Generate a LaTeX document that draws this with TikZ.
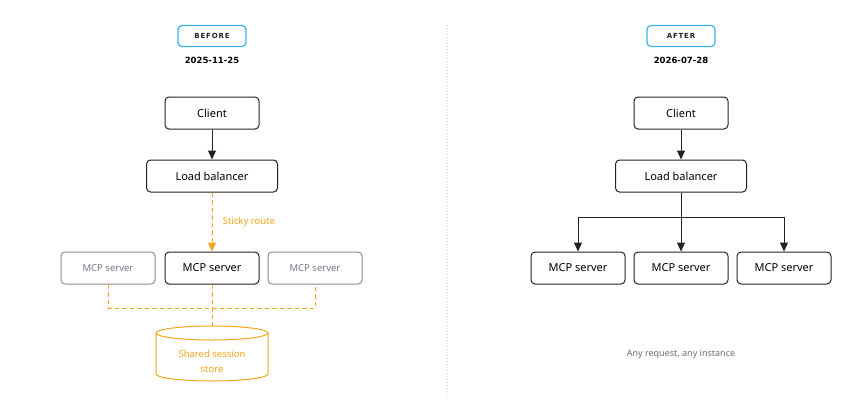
\documentclass[tikz,border=0pt]{standalone}
\usepackage{fontspec}
\setmainfont{Noto Sans}
\newfontfamily\tagfont[LetterSpace=12]{DejaVu Sans}
\newfontfamily\datefont{DejaVu Sans}
\usetikzlibrary{arrows.meta}
\definecolor{color_box_border}{HTML}{222222}
\definecolor{color_box_faded}{HTML}{8C8C8C}
\definecolor{color_faded_text}{HTML}{6E7680}
\definecolor{color_sticky}{HTML}{F5A31A}
\definecolor{color_tag}{HTML}{36B4EE}
\definecolor{color_divider}{HTML}{D4D4D4}
\definecolor{color_note}{HTML}{6E6E6E}
\def\boxwidth{94pt}
\def\boxheight{32pt}
\def\lbwidth{131pt}
\def\storerx{56}
\def\storery{7}
\tikzset{
    box/.style={draw=color_box_border, line width=1pt, rounded corners=4pt,
        minimum width=\boxwidth, minimum height=\boxheight,
        font=\fontsize{11}{13}\selectfont},
    fadedbox/.style={box, draw=color_box_faded, text=color_faded_text,
        font=\fontsize{9.5}{11}\selectfont},
    tagbox/.style={draw=color_tag, line width=1.2pt, rounded corners=4pt,
        minimum width=68pt, minimum height=21pt, text=color_box_border,
        font=\tagfont\bfseries\fontsize{7}{9}\selectfont},
    datelabel/.style={text=black, font=\datefont\bfseries\fontsize{8.5}{10}\selectfont},
    flow/.style={-{Triangle[length=9pt,width=8pt]}, line width=1pt, color_box_border},
    sticky/.style={color_sticky, line width=1pt, dash pattern=on 4.5pt off 3pt},
}
\begin{document}
\begin{tikzpicture}[x=1pt,y=-1pt]
    \useasboundingbox (0,0) rectangle (855,400);
    % divider
    \draw[color_divider, line width=1pt, dotted] (447,25) -- (447,395);
    % before
    \node[tagbox] (tag1) at (212,36) {BEFORE};
    \node[datelabel] (date1) at (212,60) {2025-11-25};
    \node[box] (client1) at (212,113) {Client};
    \node[box, minimum width=\lbwidth] (lb1) at (212,176) {Load balancer};
    \node[fadedbox] (mcp1a) at (108,268) {MCP server};
    \node[box] (mcp1b) at (212,268) {MCP server};
    \node[fadedbox] (mcp1c) at (315,268) {MCP server};
    \coordinate (bus1) at (212,308);
    \coordinate (storetop) at (212,326);
    \draw[color_sticky, line width=1pt, fill=white]
        (212-\storerx,333) -- (212-\storerx,374)
        arc[start angle=180, end angle=360, x radius=\storerx, y radius=-\storery]
        -- (212+\storerx,333);
    \draw[color_sticky, line width=1pt] (212,333) ellipse[x radius=\storerx, y radius=\storery];
    \node[text=color_sticky, align=center, font=\fontsize{9.5}{15}\selectfont] (store) at (212,361) {Shared session\\store};
    \draw[flow] (client1) -- (lb1);
    \draw[sticky, -{Triangle[length=9pt,width=8pt]}] (lb1) -- (mcp1b)
        node[midway, right, xshift=7pt, font=\fontsize{9.5}{11}\selectfont] {Sticky route};
    \draw[sticky] (mcp1a) |- (bus1) -| (mcp1c);
    \draw[sticky] (mcp1b) -- (storetop);
    % after
    \node[tagbox] (tag2) at (681,36) {AFTER};
    \node[datelabel] (date2) at (681,60) {2026-07-28};
    \node[box] (client2) at (681,113) {Client};
    \node[box, minimum width=\lbwidth] (lb2) at (681,176) {Load balancer};
    \node[box] (mcp2a) at (578,268) {MCP server};
    \node[box] (mcp2b) at (681,268) {MCP server};
    \node[box] (mcp2c) at (784,268) {MCP server};
    \coordinate (split2) at (681,217);
    \draw[flow] (client2) -- (lb2);
    \draw[flow] (lb2) -- (mcp2b);
    \draw[flow] (split2) -| (mcp2a);
    \draw[flow] (split2) -| (mcp2c);
    \node[text=color_note, font=\fontsize{9}{11}\selectfont] (note2) at (681,354) {Any request, any instance};
\end{tikzpicture}
\end{document}
